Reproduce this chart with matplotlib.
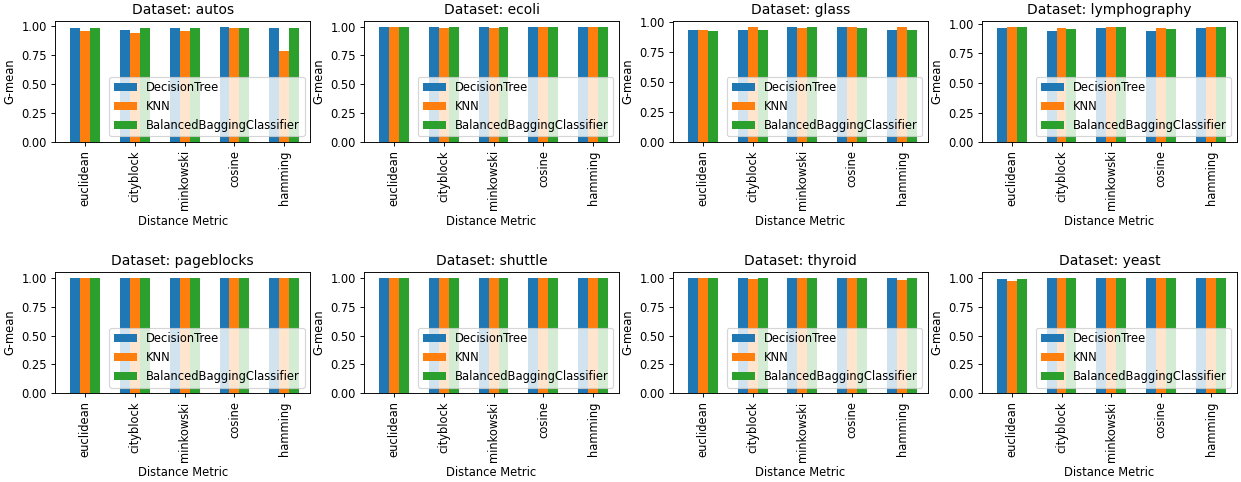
import numpy as np
import matplotlib
matplotlib.use("Agg")
import matplotlib.pyplot as plt

datasets = ["autos", "ecoli", "glass", "lymphography",
            "pageblocks", "shuttle", "thyroid", "yeast"]
metrics = ["euclidean", "cityblock", "minkowski", "cosine", "hamming"]
classifiers = ["DecisionTree", "KNN", "BalancedBaggingClassifier"]

# G-mean per dataset, rows = classifiers, cols = metrics
autos = [[0.988, 0.971, 0.980, 0.997, 0.980],
         [0.954, 0.937, 0.954, 0.980, 0.790],
         [0.980, 0.988, 0.980, 0.988, 0.980]]
ecoli = [[1.000, 1.000, 1.000, 1.000, 1.000],
         [1.000, 0.990, 0.990, 1.000, 1.000],
         [1.000, 1.000, 1.000, 1.000, 1.000]]
glass = [[0.928, 0.928, 0.961, 0.953, 0.936],
         [0.936, 0.961, 0.945, 0.961, 0.961],
         [0.920, 0.928, 0.953, 0.945, 0.928]]
lymphography = [[0.961, 0.935, 0.961, 0.935, 0.961],
                [0.969, 0.961, 0.969, 0.961, 0.969],
                [0.977, 0.952, 0.969, 0.952, 0.969]]
pageblocks = [[1.0, 1.0, 1.0, 1.0, 1.0],
              [1.0, 1.0, 1.0, 1.0, 1.0],
              [1.0, 1.0, 1.0, 1.0, 1.0]]
shuttle = [[1.0, 1.0, 1.0, 1.0, 1.0],
           [1.0, 1.0, 1.0, 1.0, 1.0],
           [1.0, 1.0, 1.0, 1.0, 1.0]]
thyroid = [[1.000, 1.000, 1.000, 1.000, 1.000],
           [1.000, 0.990, 1.000, 1.000, 0.980],
           [1.000, 1.000, 1.000, 1.000, 1.000]]
yeast = [[0.991, 1.000, 1.000, 1.000, 1.000],
         [0.974, 1.000, 1.000, 1.000, 1.000],
         [0.991, 1.000, 1.000, 1.000, 1.000]]

results = [autos, ecoli, glass, lymphography, pageblocks, shuttle, thyroid, yeast]

width = 0.2
x = np.arange(len(metrics))

fig, axes = plt.subplots(2, 4, figsize=(1241 / 83, 482 / 83), dpi=83)
for ax, name, res in zip(axes.flat, datasets, results):
    for i, clf in enumerate(classifiers):
        ax.bar(x + (i - 1) * width, res[i], width, label=clf)
    ax.set_title(f"Dataset: {name}")
    ax.set_xlabel("Distance Metric")
    ax.set_ylabel("G-mean")
    ax.set_xticks(x)
    ax.set_xticklabels(metrics, rotation=90)
    ax.set_xlim(-0.6, 4.52)
    ax.legend(loc="lower right")

fig.subplots_adjust(left=0.0443, right=0.9968, top=0.957, bottom=0.184,
                    wspace=0.21, hspace=1.07)
plt.savefig("out.png")
